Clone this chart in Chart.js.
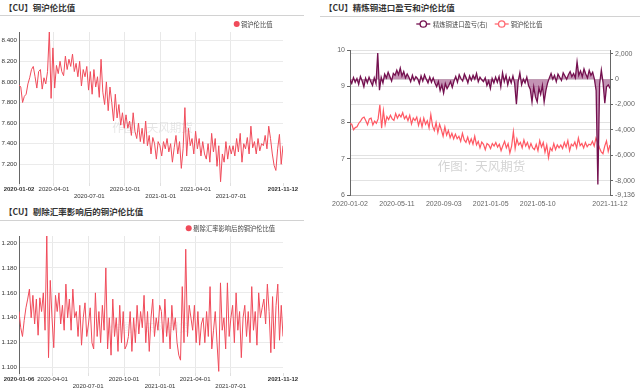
<!DOCTYPE html>
<html><head><meta charset="utf-8">
<script src="https://cdn.jsdelivr.net/npm/chart.js@4.4.0/dist/chart.umd.min.js"></script>
<style>
html,body{margin:0;padding:0;background:#fff;width:640px;height:390px;overflow:hidden;font-family:"Noto Sans CJK SC","Liberation Sans",sans-serif;}
.t{position:absolute;font-size:8.5px;font-weight:bold;color:#333;white-space:nowrap;line-height:1;}
.u{position:absolute;height:1px;background:#d2d2d2;}
canvas{position:absolute;}
</style></head><body>
<div class="t" style="left:4px;top:3px">【CU】铜沪伦比值</div>
<div class="u" style="left:0;top:15px;width:304px"></div>
<div class="t" style="left:4px;top:207px">【CU】剔除汇率影响后的铜沪伦比值</div>
<div class="u" style="left:0;top:220px;width:304px"></div>
<div class="t" style="left:324px;top:3px">【CU】精炼铜进口盈亏和沪伦比值</div>
<div class="u" style="left:320px;top:16px;width:320px"></div>
<canvas id="c1" width="310" height="200" style="left:0;top:0"></canvas>
<canvas id="c2" width="310" height="190" style="left:0;top:200px"></canvas>
<canvas id="c3" width="320" height="210" style="left:320px;top:0"></canvas>
<script>
// ---------- data ----------
const ratioName = '铜沪伦比值';
const ratioStart = '2020-01-02', ratioEnd = '2021-11-12';
const ratio = [
7.97,7.95,7.80,7.86,7.88,7.98,8.04,8.12,8.15,
8.05,7.94,8.10,8.12,7.93,8.04,7.98,8.10,8.49,7.84,8.33,7.94,
8.16,8.08,8.20,8.10,8.06,8.25,8.12,8.22,8.15,8.27,8.10,8.18,8.05,8.20,7.96,8.12,8.05,8.15,7.92,8.10,
7.88,8.12,7.95,8.05,7.85,8.22,7.90,7.78,8.00,7.72,7.95,7.80,7.62,7.88,7.65,7.78,7.58,7.70,7.55,
7.68,7.55,7.62,7.48,7.70,7.52,7.45,7.60,7.42,7.55,7.40,7.62,7.38,7.48,7.30,7.46,7.40,7.25,7.42,7.38,
7.28,7.42,7.35,7.45,7.32,7.40,7.22,7.36,7.48,7.30,7.42,7.16,7.35,7.75,7.28,7.55,7.38,7.45,7.30,7.52,
7.35,7.45,7.28,7.42,7.30,7.25,7.40,7.22,7.50,7.32,7.45,7.18,7.38,7.03,7.30,7.22,7.42,7.25,7.38,7.30,
7.38,7.28,7.45,7.32,7.50,7.22,7.40,7.35,7.46,7.30,7.57,7.36,7.42,7.30,7.45,7.33,7.40,7.38,7.48,7.35,7.57,7.45,7.30,7.19,7.14,7.35,7.49,7.20,7.38
];
const exName = '剔除汇率影响后的铜沪伦比值';
const exStart = '2020-01-06', exEnd = '2021-11-12';
const exAdjRatio = [
1.145,1.132,1.125,1.138,1.148,1.155,
1.163,1.140,1.158,1.135,1.155,1.126,1.156,1.145,
1.160,1.130,1.206,1.108,1.170,1.140,1.116,1.158,
1.145,1.160,1.135,1.150,1.130,1.167,1.140,1.155,1.130,1.163,1.140,
1.145,1.125,1.150,1.118,1.140,1.152,1.125,1.135,1.148,1.120,
1.115,1.160,1.125,1.145,1.120,1.150,1.130,1.180,1.115,1.140,
1.110,1.155,1.125,1.140,1.113,1.150,1.120,1.145,1.115,
1.118,1.125,1.145,1.113,1.140,1.120,1.150,1.127,1.145,1.132,1.158,
1.120,1.145,1.113,1.140,1.155,1.125,1.140,1.130,1.150,
1.145,1.120,1.155,1.125,1.140,1.115,1.150,1.130,1.140,1.120,1.110,
1.106,1.165,1.120,1.195,1.125,
1.150,1.140,1.130,1.150,1.120,1.145,1.118,1.135,1.140,1.120,1.145,1.125,
1.165,1.115,1.130,1.145,1.120,1.097,1.168,
1.130,1.140,1.115,1.168,1.125,1.140,1.150,1.120,
1.160,1.130,1.145,1.108,1.140,1.150,1.125,1.145,1.120,1.165,1.130,
1.145,1.118,1.160,1.140,1.148,1.155,1.135,1.167,
1.145,1.112,1.157,1.115,1.150,1.167,1.122,1.150,1.125
];
const plName = '精炼铜进口盈亏(右)';
const importPL = [
-80,-350,120,-250,50,-420,200,-150,-600,80,-300,150,-200,-500,100,-350,
2050,-870,
150,-300,400,100,550,200,-150,450,300,700,350,870,250,600,100,400,
150,-200,300,-100,200,50,-350,250,-150,350,0,-300,150,-250,100,
-300,-600,-200,-900,-450,-1100,-350,-750,-500,-200,-650,-150,
200,-250,350,50,-150,400,100,-300,250,-100,300,0,450,-200,150,-50,
-200,100,-500,-150,-740,50,-300,150,-250,
200,-600,500,-200,300,-450,100,-300,250,-350,
-1980,
-200,500,-450,0,-300,150,-500,
-800,-1800,-600,-1400,-1800,-700,-1200,-500,-1800,-900,
-300,100,450,0,300,-200,400,150,-100,500,250,0,350,600,200,450,100,
1370,300,
650,200,800,400,100,700,300,550,0,
-900,-8300,-400,710,-300,-1900,-600,-450,-740
];
const topTickDates = ['2020-01-02','2020-04-01','2020-07-01','2020-10-01','2021-01-01','2021-04-01','2021-07-01','2021-11-12'];
const botTickDates = ['2020-01-06','2020-04-01','2020-07-01','2020-10-01','2021-01-01','2021-04-01','2021-07-01','2021-11-12'];
const ratioTicks = [7.2,7.4,7.6,7.8,8.0,8.2,8.4];
const exTicks = [1.10,1.12,1.14,1.16,1.18,1.20];
const rightTickLabels = ['2020-01-02','2020-05-11','2020-09-03','2021-01-05','2021-05-10','2021-11-12'];
const rightTickIdx = [0,83,166,249,332,460];   // trading-day index
const tradingDays = 460;
const plTicks = [-9136,-8000,-6000,-4000,-2000,0,2000];
const watermark = '作图：天风期货';

// ---------- helpers ----------
Chart.defaults.font.family = "'Liberation Sans', Arial, sans-serif";
Chart.defaults.animation = false;
const dayNum = s => { const [y,m,d] = s.split('-').map(Number); return Date.UTC(y,m-1,d)/864e5; };
const spread = (arr, span) => arr.map((v,i) => ({x: i*span/(arr.length-1), y: v}));
const CJK = "'Noto Sans CJK SC', sans-serif";

const deco = {
  id: 'deco',
  beforeDatasetsDraw(chart, args, o) {
    if (!o.wm) return;
    const c = chart.ctx; c.save();
    c.font = o.wm.font; c.fillStyle = o.wm.color; c.textAlign = 'center'; c.textBaseline = 'middle';
    c.fillText(watermark, o.wm.x, o.wm.y); c.restore();
  },
  afterDraw(chart, args, o) {
    const c = chart.ctx;
    (o.legend || []).forEach(it => {
      c.save();
      if (it.kind === 'dot') {
        c.fillStyle = it.color; c.beginPath(); c.arc(it.x, it.y, 3, 0, Math.PI*2); c.fill();
      } else {
        c.strokeStyle = it.color; c.lineWidth = 1.3;
        c.beginPath(); c.moveTo(it.x-7, it.y); c.lineTo(it.x+7, it.y); c.stroke();
        c.fillStyle = '#fff'; c.beginPath(); c.arc(it.x, it.y, 3.2, 0, Math.PI*2); c.fill(); c.stroke();
      }
      c.fillStyle = '#444'; c.font = '6.3px ' + CJK; c.textAlign = 'left'; c.textBaseline = 'middle';
      c.fillText(it.text, it.tx, it.y + 0.3);
      c.restore();
    });
  }
};

function leftChart(id, values, start, end, tickDates, yTicks, yMin, yMax, dec, padTop, legend, wm, lineCol) {
  const span = dayNum(end) - dayNum(start);
  const tickVals = tickDates.map(d => dayNum(d) - dayNum(start));
  const last = tickVals.length - 1;
  return new Chart(document.getElementById(id), {
    type: 'line',
    data: { datasets: [{ data: spread(values, span), borderColor: lineCol, borderWidth: 1, pointRadius: 0, tension: 0 }] },
    plugins: [deco],
    options: {
      responsive: false,
      layout: { padding: { left: 0, right: 27, top: padTop, bottom: 0 } },
      plugins: { legend: { display: false }, tooltip: { enabled: false }, deco: { legend, wm } },
      scales: {
        x: {
          type: 'linear', min: 0, max: span,
          afterFit: s => { s.height = 17; },
          afterBuildTicks: s => { s.ticks = tickVals.map(v => ({ value: v })); },
          border: { display: false },
          grid: { color: c => (c.index === 0 || c.index === last) ? 'rgba(0,0,0,0)' : '#e8e8e8', tickLength: 3, tickColor: '#e0e0e0' },
          ticks: {
            autoSkip: false, maxRotation: 0, minRotation: 0, padding: 0, color: '#333',
            font: c => ({ size: 6, lineHeight: 1.1, weight: (c.index === 0 || c.index === last) ? 'bold' : 'normal' }),
            callback: (v, i) => (i === 2 || i === 4 || i === 6) ? ['', tickDates[i]] : tickDates[i]
          }
        },
        y: {
          min: yMin, max: yMax,
          afterFit: s => { s.width = 19; },
          afterBuildTicks: s => { s.ticks = yTicks.map(v => ({ value: v })); },
          border: { display: true, color: '#666', width: 1 },
          grid: { color: '#ebebeb', drawTicks: false },
          ticks: { padding: 2, color: '#333', font: { size: 6.2 }, callback: v => v.toFixed(dec) }
        }
      }
    }
  });
}

leftChart('c1', ratio, ratioStart, ratioEnd, topTickDates, ratioTicks, 7.018, 8.4845, 3, 32,
  [{ kind: 'dot', color: '#f04b5a', x: 236.7, y: 24, tx: 241, text: ratioName }],
  { font: '11.5px ' + CJK, color: 'rgba(200,200,200,0.45)', x: 152.5, y: 127.7 }, 'rgb(240,75,90)');

leftChart('c2', exAdjRatio, exStart, exEnd, botTickDates, exTicks, 1.0957, 1.2056, 3, 36,
  [{ kind: 'dot', color: '#f04b5a', x: 188.7, y: 28.3, tx: 193.3, text: exName }],
  { font: '11.5px ' + CJK, color: 'rgba(200,200,200,0.25)', x: 150, y: 128 }, 'rgb(240,75,90)');

new Chart(document.getElementById('c3'), {
  type: 'line',
  data: { datasets: [
    { data: spread(importPL, tradingDays), yAxisID: 'y2', borderColor: '#74104f', borderWidth: 1.3, pointRadius: 0, tension: 0,
      fill: { value: 0 }, backgroundColor: 'rgba(135,40,105,0.5)' },
    { data: spread(ratio, tradingDays), yAxisID: 'y', borderColor: '#ff5863', borderWidth: 1.2, pointRadius: 0, tension: 0 }
  ] },
  plugins: [deco],
  options: {
    responsive: false,
    layout: { padding: { left: 0, right: 0, top: 50, bottom: 0 } },
    plugins: { legend: { display: false }, tooltip: { enabled: false },
      deco: {
        legend: [
          { kind: 'lc', color: '#74104f', x: 103.3, y: 24, tx: 113, text: plName },
          { kind: 'lc', color: '#ff6a72', x: 181.7, y: 24, tx: 190.7, text: ratioName }
        ],
        wm: { font: '12.5px ' + CJK, color: '#d4d4d4', x: 161.5, y: 166.5 }
      } },
    scales: {
      x: {
        type: 'linear', min: 0, max: tradingDays,
        afterFit: s => { s.height = 15; },
        afterBuildTicks: s => { s.ticks = rightTickIdx.map(v => ({ value: v })); },
        border: { display: true, color: '#bbb', width: 1 },
        grid: { color: 'rgba(0,0,0,0)', drawTicks: false },
        ticks: { autoSkip: false, maxRotation: 0, padding: 5, color: '#666', font: { size: 7 },
          callback: (v, i) => rightTickLabels[i] }
      },
      y: {
        position: 'left', min: 6, max: 10,
        afterFit: s => { s.width = 30; },
        border: { display: true, color: '#666', width: 1 },
        grid: { color: '#e2e2e2', tickLength: 3, tickColor: '#666' },
        ticks: { stepSize: 1, padding: 2, color: '#666', font: { size: 7 } }
      },
      y2: {
        position: 'right', min: -9136, max: 2297,
        afterFit: s => { s.width = 30; },
        afterBuildTicks: s => { s.ticks = plTicks.map(v => ({ value: v })); },
        border: { display: true, color: '#666', width: 1 },
        grid: { color: '#e2e2e2', tickLength: 3, tickColor: '#666' },
        ticks: { padding: 2, color: '#666', font: { size: 7 }, callback: v => v.toLocaleString('en-US') }
      }
    }
  }
});
</script>
</body></html>
